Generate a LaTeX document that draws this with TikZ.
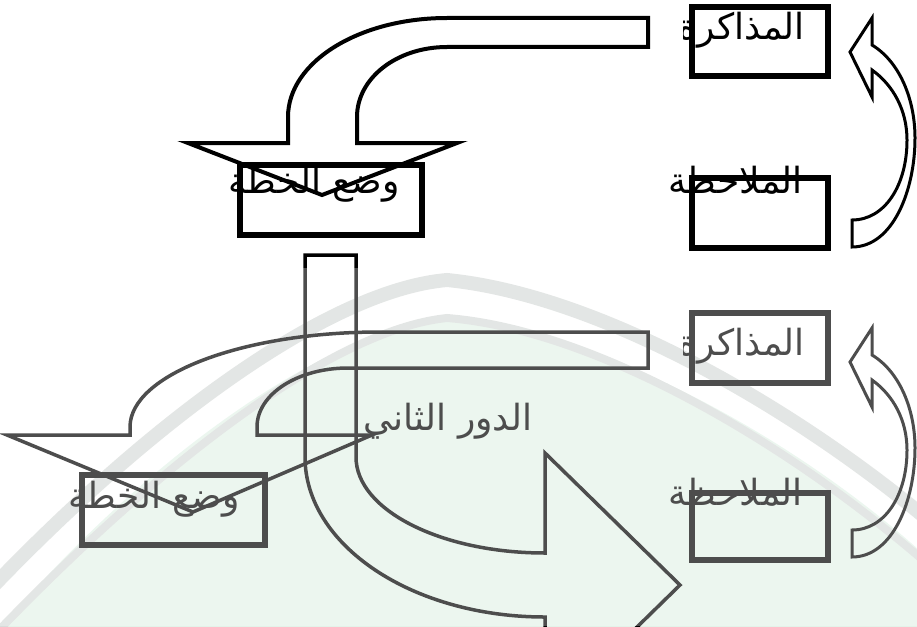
\documentclass[tikz,border=0pt]{standalone}
\usepackage{fontspec}
\newfontfamily\arabicfont[Script=Arabic]{DejaVu Sans}
\TeXXeTstate=1
\definecolor{wmgreen}{RGB}{228,243,233}
\definecolor{wmgrey}{RGB}{216,220,218}
\begin{document}
\begin{tikzpicture}[x=1pt,y=-1pt,
  box/.style={draw, line width=5.5pt, inner sep=0pt, outer sep=0pt},
  lbl/.style={font=\arabicfont\fontsize{36}{40}\selectfont, inner sep=0pt, anchor=base east},
  bigarrow/.style={draw, line width=4pt, line join=miter, miter limit=20},
  thinarrow/.style={draw, line width=3pt, line join=miter, miter limit=20},
  curvarrow/.pic={
    \draw[thinarrow] (850,52) -- (872,18) -- (872,45)
      .. controls (900,62) and (915,100) .. (915,138)
      .. controls (915,190) and (893,247) .. (852,247) -- (852,220)
      .. controls (885,220) and (907,185) .. (907,140)
      .. controls (907,110) and (893,85) .. (872,70) -- (872,97) -- cycle;
  }
]
\useasboundingbox (0,0) rectangle (917,626);
\clip (0,0) rectangle (917,626);

% ---------- watermark (background) ----------
\fill[wmgreen] (-10,640) .. controls (150,450) and (330,330) .. (447,318)
  .. controls (600,330) and (800,440) .. (930,560) -- (930,640) -- cycle;
\draw[wmgrey, line width=14pt] (-20,600) .. controls (150,420) and (330,290) .. (447,280)
  .. controls (600,295) and (800,410) .. (940,530);
\draw[wmgrey, line width=8pt] (-20,650) .. controls (150,470) and (330,330) .. (447,318)
  .. controls (600,330) and (800,450) .. (940,575);

% ---------- first round ----------
\begin{scope}
  \clip (683,0) rectangle (917,120);
  \node[lbl] (tmem1) at (805,40) {\beginR المذاكرة\endR};
\end{scope}
\node[lbl] (tobs1) at (803,193) {\beginR الملاحظة\endR};
\node[lbl] (tplan1) at (400,193) {\beginR وضع الخطة\endR};

\node[box, minimum width=136pt, minimum height=69pt] (mem1) at (760,41.5) {};
\node[box, minimum width=136pt, minimum height=70pt] (obs1) at (760,213) {};
\node[box, minimum width=182pt, minimum height=70pt] (plan1) at (331,200) {};

\pic at (0,0) {curvarrow};

\draw[bigarrow] (648,18) -- (447,18)
  .. controls (359,18) and (288,62) .. (288,117) -- (288,143)
  -- (188,143) -- (322,195) -- (457,143) -- (357,143) -- (357,117)
  .. controls (357,78) and (397,47) .. (447,47) -- (648,47) -- cycle;

% ---------- second round ----------
\begin{scope}
  \clip (683,300) rectangle (917,420);
  \node[lbl] (tmem2) at (805,355) {\beginR المذاكرة\endR};
\end{scope}
\node[lbl] (tobs2) at (803,505) {\beginR الملاحظة\endR};
\node[lbl] (tround) at (533,430) {\beginR الدور الثاني\endR};
\node[lbl] (tplan2) at (240,508) {\beginR وضع الخطة\endR};

\node[box, minimum width=136pt, minimum height=70pt] (mem2) at (760,348) {};
\node[box, minimum width=136pt, minimum height=67pt] (obs2) at (760,526.5) {};
\node[box, minimum width=183pt, minimum height=70pt] (plan2) at (173.5,510) {};

\pic at (0,310) {curvarrow};

\draw[bigarrow, line width=3.5pt] (305,255) -- (305,457)
  .. controls (305,545) and (412,617) .. (545,617) -- (545,717)
  -- (680,585) -- (545,453) -- (545,553)
  .. controls (441,553) and (356,510) .. (356,457) -- (356,255) -- cycle;

\draw[bigarrow, line width=3.5pt] (648,332) -- (380,332)
  .. controls (242,332) and (130,375) .. (130,427) -- (130,435)
  -- (7,435) -- (193,512) -- (372,435) -- (257,435) -- (257,427)
  .. controls (257,394) and (298,368) .. (348,368) -- (648,368) -- cycle;

% ---------- watermark veil over the lower part ----------
\fill[white, opacity=0.3] (0,268) rectangle (917,626);
\end{tikzpicture}
\end{document}
